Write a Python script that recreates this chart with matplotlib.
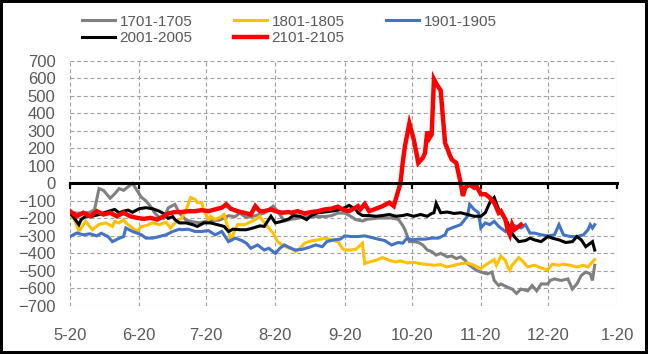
import matplotlib.pyplot as plt
import matplotlib.dates as mdates
from matplotlib.patches import Rectangle
from matplotlib.ticker import FuncFormatter
import pandas as pd

# Data: day offsets from 5-20 and values
start = pd.Timestamp('2022-05-20')

labels = ['1701-1705', '1801-1805', '1901-1905', '2001-2005', '2101-2105']
colors = ['#808080', '#FFC000', '#4472C4', '#000000', '#FF0000']

grey_days = [0, 3, 6, 9, 11, 13, 15, 18, 20, 22, 24, 26, 28, 30, 32, 34, 36, 38, 40, 42,
             44, 47, 49, 52, 55, 58, 62, 67, 71, 74, 76, 79, 83, 87, 91, 93, 96, 99, 102, 105,
             108, 111, 114, 117, 120, 123, 126, 128, 131, 133, 135, 138, 141, 144, 147, 149, 150, 152, 154, 156,
             158, 160, 162, 164, 166, 169, 171, 173, 175, 177, 178, 180, 182, 184, 187, 189, 190, 192, 193, 196,
             198, 200, 202, 205, 207, 209, 211, 214, 215, 217, 220, 223, 225, 227, 229, 231, 233, 234, 235]
grey_vals = [-165, -170, -170, -165, -150, -30, -40, -85, -60, -30, -40, -20, 0, -40, -80, -100, -130, -170, -195, -200,
             -140, -120, -170, -210, -220, -225, -215, -210, -185, -190, -170, -195, -185, -170, -130, -160, -215, -205, -200, -190,
             -190, -190, -190, -185, -170, -170, -190, -207, -215, -205, -203, -198, -198, -198, -205, -240, -265, -333, -333, -338,
             -352, -381, -390, -410, -400, -420, -415, -430, -420, -440, -459, -478, -497, -507, -517, -507, -555, -584, -575, -594,
             -604, -629, -604, -614, -584, -614, -575, -575, -555, -546, -555, -546, -604, -575, -526, -507, -517, -555, -468]

yellow_days = [0, 2, 4, 7, 10, 13, 16, 19, 20, 22, 24, 25, 28, 30, 32, 34, 37, 40, 43, 45,
               47, 50, 52, 54, 56, 57, 59, 60, 62, 63, 65, 68, 69, 71, 72, 73, 75, 78, 80, 83,
               85, 86, 89, 91, 93, 95, 98, 99, 101, 103, 105, 108, 111, 114, 117, 120, 122, 123, 126, 128,
               131, 132, 134, 137, 140, 143, 146, 148, 151, 154, 157, 160, 163, 166, 169, 172, 175, 178, 181, 184,
               186, 187, 190, 191, 193, 195, 196, 197, 198, 201, 203, 205, 208, 210, 212, 214, 216, 219, 221, 224,
               227, 230, 232, 234, 235]
yellow_vals = [-185, -205, -275, -217, -265, -235, -226, -246, -217, -226, -207, -226, -255, -275, -246, -242, -226, -236, -222, -255,
               -226, -200, -150, -81, -91, -110, -110, -159, -207, -188, -207, -188, -178, -265, -333, -294, -236, -236, -226, -207,
               -188, -207, -255, -284, -333, -352, -371, -371, -390, -371, -342, -329, -323, -313, -323, -333, -371, -381, -381, -377,
               -342, -459, -449, -440, -424, -440, -449, -443, -455, -451, -459, -464, -468, -464, -478, -468, -459, -455, -468, -488,
               -468, -459, -435, -468, -416, -440, -478, -497, -468, -424, -449, -478, -468, -478, -488, -493, -462, -468, -462, -468,
               -478, -468, -478, -449, -435]

blue_days = [0, 3, 6, 9, 12, 14, 17, 19, 22, 24, 25, 28, 30, 32, 34, 37, 40, 43, 46, 49,
             50, 53, 56, 59, 62, 65, 68, 71, 74, 77, 79, 81, 84, 87, 89, 92, 94, 96, 99, 101,
             104, 107, 110, 113, 115, 118, 121, 123, 126, 129, 132, 135, 138, 141, 144, 147, 149, 151, 153, 156,
             159, 162, 165, 168, 169, 172, 175, 178, 179, 181, 183, 184, 186, 188, 190, 192, 195, 198, 200, 202,
             204, 206, 208, 211, 214, 217, 219, 221, 224, 227, 230, 232, 233, 234, 235]
blue_vals = [-304, -284, -294, -288, -300, -285, -304, -333, -314, -304, -255, -275, -284, -294, -313, -313, -304, -294, -275, -262,
             -265, -262, -275, -275, -270, -294, -275, -333, -313, -327, -342, -371, -352, -381, -371, -400, -371, -352, -371, -381,
             -377, -366, -352, -362, -333, -323, -319, -300, -304, -304, -300, -309, -319, -327, -352, -338, -342, -313, -323, -319,
             -319, -313, -313, -294, -265, -250, -236, -188, -120, -149, -168, -255, -226, -236, -217, -246, -275, -236, -246, -255,
             -236, -284, -284, -294, -300, -294, -236, -294, -304, -304, -294, -265, -236, -255, -236]

black_days = [0, 2, 4, 5, 7, 10, 13, 16, 19, 20, 22, 24, 26, 28, 31, 34, 37, 40, 42, 44,
              46, 47, 49, 52, 55, 57, 60, 63, 66, 69, 71, 73, 76, 79, 82, 85, 87, 90, 92, 95,
              98, 100, 103, 106, 108, 111, 114, 117, 120, 123, 125, 128, 129, 131, 134, 137, 140, 143, 146, 149,
              151, 154, 157, 160, 162, 163, 164, 166, 169, 172, 175, 178, 181, 184, 186, 188, 190, 192, 194, 196,
              197, 199, 201, 204, 206, 208, 211, 214, 216, 219, 222, 225, 227, 229, 231, 234, 235]
black_vals = [-168, -200, -236, -207, -188, -188, -178, -165, -153, -149, -168, -159, -153, -165, -145, -139, -145, -159, -173, -200,
              -190, -207, -226, -226, -236, -246, -226, -226, -236, -246, -275, -262, -265, -265, -255, -243, -246, -188, -226, -217,
              -203, -184, -188, -207, -184, -168, -164, -159, -153, -139, -126, -149, -168, -184, -184, -188, -184, -178, -188, -184,
              -178, -188, -178, -188, -172, -168, -114, -168, -164, -172, -168, -178, -188, -188, -168, -110, -81, -149, -188, -226,
              -265, -304, -333, -327, -313, -323, -333, -304, -313, -323, -338, -333, -304, -323, -362, -333, -381]

red_days = [0, 3, 6, 9, 12, 15, 18, 21, 24, 27, 30, 33, 36, 39, 42, 44, 47, 50, 53, 56,
            59, 62, 65, 68, 70, 72, 75, 78, 81, 83, 85, 87, 90, 92, 95, 98, 99, 102, 105, 108,
            111, 114, 117, 120, 122, 125, 127, 129, 130, 132, 134, 137, 140, 143, 145, 147, 148, 149, 150, 152,
            154, 156, 158, 159, 160, 161, 162, 163, 164, 166, 168, 169, 170, 171, 173, 175, 176, 177, 179, 181,
            182, 184, 186, 188, 189, 190, 192, 193, 195, 196, 197, 198, 199, 201, 202]
red_vals = [-159, -188, -168, -188, -159, -178, -168, -188, -168, -188, -197, -203, -197, -207, -188, -172, -164, -164, -159, -159,
            -153, -159, -149, -139, -120, -145, -159, -168, -178, -130, -159, -159, -149, -159, -168, -164, -168, -159, -172, -164,
            -159, -149, -145, -133, -149, -159, -145, -130, -149, -118, -159, -145, -130, -110, -130, -43, 0, 117, 211, 343,
            249, 117, 145, 174, 296, 259, 280, 595, 570, 532, 230, 200, 164, 136, 117, 0, -72, -25, -6, -25,
            -15, -62, -62, -81, -100, -110, -168, -159, -207, -265, -294, -236, -265, -246, -236]

series_days = [grey_days, yellow_days, blue_days, black_days, red_days]
series_vals = [grey_vals, yellow_vals, blue_vals, black_vals, red_vals]
widths = [2.2, 2.2, 2.2, 2.2, 3.2]

month_ticks = ['2022-05-20', '2022-06-20', '2022-07-20', '2022-08-20', '2022-09-20',
               '2022-10-20', '2022-11-20', '2022-12-20', '2023-01-20']
y_ticks = list(range(-700, 701, 100))

label_color = '#595959'
tick_font = 'Liberation Sans'

fig = plt.figure(figsize=(6.48, 3.54), dpi=100)
ax = fig.add_axes([0.108, 0.136, 0.8442, 0.6921])

handles = []
for days, vals, col, lw, lab in zip(series_days, series_vals, colors, widths, labels):
    x = start + pd.to_timedelta(days, unit='D')
    h, = ax.plot(x, vals, color=col, linewidth=lw, label=lab, solid_joinstyle='miter')
    handles.append(h)

xt = pd.to_datetime(month_ticks)
ax.set_xlim(xt[0], xt[-1])
ax.set_ylim(-700, 700)
ax.set_xticks(xt)
ax.set_yticks(y_ticks)

# grid
ax.grid(True, color='#A0A0A0', linewidth=0.8, linestyle=(0, (3.5, 2.5)))
ax.set_axisbelow(True)

for s in ['top', 'right', 'left']:
    ax.spines[s].set_visible(False)

# axis line at zero with short ticks, labels at the bottom instead
ax.spines['bottom'].set_position(('data', 0))
ax.spines['bottom'].set_linewidth(2.2)
ax.spines['bottom'].set_zorder(3)
ax.tick_params(axis='x', direction='out', length=4, width=1.6, labelbottom=False)
ax.tick_params(axis='y', length=0, pad=10.5, labelsize=12, labelcolor=label_color)
for t in ax.get_yticklabels():
    t.set_fontfamily(tick_font)

fmt = FuncFormatter(lambda v, pos: f"{mdates.num2date(v).month}-{mdates.num2date(v).day}")
sec = ax.secondary_xaxis('bottom')
sec.set_xticks(xt)
sec.xaxis.set_major_formatter(fmt)
sec.spines['bottom'].set_visible(False)
sec.tick_params(axis='x', length=0, pad=16, labelsize=12, labelcolor=label_color)
for t in sec.get_xticklabels():
    t.set_fontfamily(tick_font)

# legend, row-major order
order = [0, 3, 1, 4, 2]
fig.legend([handles[i] for i in order], [labels[i] for i in order],
           loc='upper left', bbox_to_anchor=(0.105, 0.997), ncol=3, frameon=False,
           handlelength=2.2, handletextpad=0.27, columnspacing=2.7, labelspacing=0.15,
           labelcolor=label_color,
           prop={'family': tick_font, 'size': 11})

# outer border
fig.patches.append(Rectangle((0, 0), 1, 1, transform=fig.transFigure, fill=False,
                             edgecolor='black', linewidth=4.3))

fig.savefig('out.png', dpi=100)
